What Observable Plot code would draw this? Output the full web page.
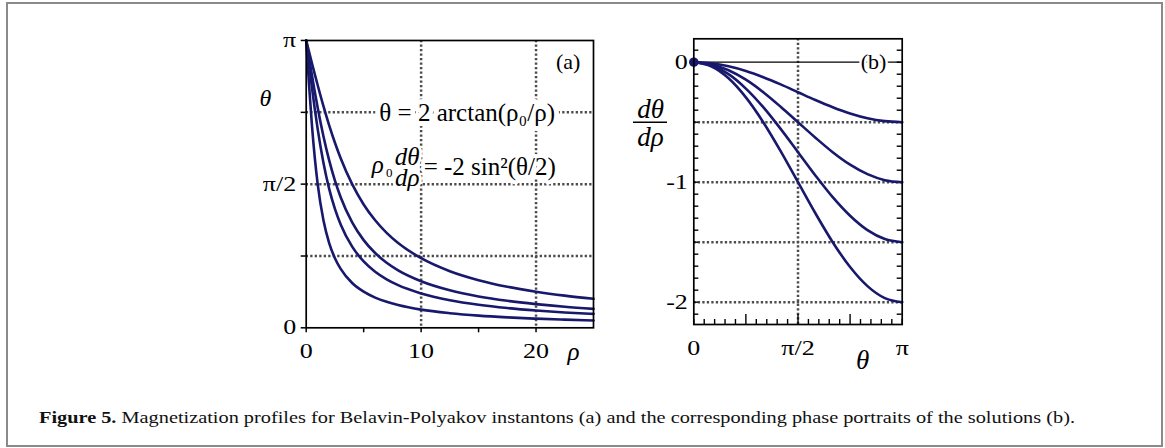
<!DOCTYPE html>
<html><head><meta charset="utf-8">
<script src="https://cdn.jsdelivr.net/npm/d3@7"></script>
<script src="https://cdn.jsdelivr.net/npm/@observablehq/plot@0.6"></script>
<style>
html,body{margin:0;padding:0;background:#fff;}
#wrap{position:relative;width:1165px;height:448px;overflow:hidden;font-family:'Liberation Serif','Times New Roman',serif;}
#border{position:absolute;left:6px;top:2px;width:1153px;height:441px;border:2px solid #8a8a8a;}
#pa{position:absolute;left:220px;top:20px;width:390px;height:360px;}
#pb{position:absolute;left:600px;top:20px;width:320px;height:360px;}
#cap{position:absolute;left:0;top:390px;}
#wrap svg text{font-family:'Liberation Serif','Times New Roman',serif !important;}
#wrap g[aria-label$="tick label"] text{font-size:20px !important;}
</style></head><body>
<div id="wrap"><div id="border"></div><div id="pa"></div><div id="pb"></div>
<svg id="cap" width="1165" height="50"><text x="39" y="33" font-size="17" fill="#111" textLength="1036" lengthAdjust="spacingAndGlyphs"><tspan font-weight="bold">Figure 5.</tspan> Magnetization profiles for Belavin-Polyakov instantons (a) and the corresponding phase portraits of the solutions (b).</text></svg>
</div>
<script>
// ---------- Panel (a) data: theta(rho) ----------
const rhoA    = [0, 0.25, 0.5, 0.75, 1, 1.5, 2, 2.5, 3, 4, 5, 6, 7, 8, 10, 12.5, 15, 17.5, 20, 22.5, 25];
const thetaA1 = [3.142, 2.652, 2.214, 1.855, 1.571, 1.176, 0.927, 0.761, 0.644, 0.490, 0.395, 0.330, 0.284, 0.249, 0.199, 0.160, 0.133, 0.114, 0.100, 0.089, 0.080];
const thetaA2 = [3.142, 2.880, 2.627, 2.390, 2.173, 1.806, 1.519, 1.300, 1.129, 0.887, 0.726, 0.613, 0.530, 0.466, 0.376, 0.302, 0.252, 0.216, 0.189, 0.168, 0.152];
const thetaA3 = [3.142, 2.950, 2.762, 2.580, 2.407, 2.095, 1.830, 1.610, 1.428, 1.153, 0.959, 0.818, 0.711, 0.628, 0.509, 0.410, 0.343, 0.295, 0.259, 0.230, 0.207];
const thetaA4 = [3.142, 3.017, 2.893, 2.771, 2.652, 2.424, 2.214, 2.024, 1.855, 1.571, 1.349, 1.176, 1.038, 0.927, 0.761, 0.619, 0.521, 0.449, 0.395, 0.352, 0.317];
const xTicksA  = [0, 5, 10, 15, 20];
const xLabelsA = ["0", "", "10", "", "20"];
const yTicksA  = [0, 0.785, 1.571, 2.356, 3.142];
const yLabelsA = ["0", "", "π/2", "", "π"];
const gridXA = [10, 20];
const gridYA = [0.785, 1.571, 2.356];

// ---------- Panel (b) data: dθ/dρ vs θ ----------
const thetaB = [0, 0.262, 0.524, 0.785, 1.047, 1.309, 1.571, 1.833, 2.094, 2.356, 2.618, 2.880, 3.142];
const slopeB1 = [0, -0.009, -0.034, -0.073, -0.125, -0.185, -0.250, -0.315, -0.375, -0.427, -0.467, -0.491, -0.500];
const slopeB2 = [0, -0.017, -0.067, -0.146, -0.250, -0.371, -0.500, -0.629, -0.750, -0.854, -0.933, -0.983, -1.000];
const slopeB3 = [0, -0.026, -0.100, -0.220, -0.375, -0.556, -0.750, -0.944, -1.125, -1.280, -1.400, -1.474, -1.500];
const slopeB4 = [0, -0.034, -0.134, -0.293, -0.500, -0.741, -1.000, -1.259, -1.500, -1.707, -1.866, -1.966, -2.000];
const dotTheta = [0];
const dotSlope = [0];
const xTicksB  = [0, 1.571, 3.142];
const xLabelsB = ["0", "π/2", "π"];
const yTicksB  = [0, -1, -2];
const yLabelsB = ["0", "-1", "-2"];
const xMinorB = [0, 0.157, 0.314, 0.471, 0.628, 0.942, 1.100, 1.257, 1.414, 1.728, 1.885, 2.042, 2.199, 2.513, 2.670, 2.827, 2.985, 3.142];
const xMajorB = [0.785, 1.571, 2.356];
const yMinorB = [-2.1, -2.0, -1.9, -1.8, -1.7, -1.6, -1.5, -1.4, -1.3, -1.2, -1.1, -1.0, -0.9, -0.8, -0.7, -0.6, -0.5, -0.4, -0.3, -0.2, -0.1, 0, 0.1];
const gridXB = [1.571];
const gridYB = [-0.5, -1, -1.5, -2];

// ---------- styling ----------
const navy = "#18186c";
const serif = "'Liberation Serif', 'Times New Roman', serif";
const dotted = {stroke: "#4d4d4d", strokeWidth: 2.5, strokeDasharray: "2.3,2.2"};
const halo = {stroke: "white", strokeWidth: 6, fill: "#000"};
const ann = {frameAnchor: "top-left", textAnchor: "middle", lineAnchor: "middle", fontFamily: serif, text: d => d};

const tableA = [thetaA1, thetaA2, thetaA3, thetaA4].flatMap((arr, s) => arr.map((t, i) => ({rho: rhoA[i], theta: t, s})));
const tableB = [slopeB1, slopeB2, slopeB3, slopeB4].flatMap((arr, s) => arr.map((v, i) => ({theta: thetaB[i], slope: v, s})));
const mapXA = new Map(xTicksA.map((v, i) => [v, xLabelsA[i]]));
const mapYA = new Map(yTicksA.map((v, i) => [v, yLabelsA[i]]));
const mapXB = new Map(xTicksB.map((v, i) => [v, xLabelsB[i]]));
const mapYB = new Map(yTicksB.map((v, i) => [v, yLabelsB[i]]));

const styleBase = {fontFamily: serif, fontSize: "19px", color: "#000", background: "transparent", overflow: "visible", maxWidth: "none"};

// widen the tick-label glyphs like the reference's wide numerals (scale about each label's anchor)
function stretchTickLabels(plot, k) {
  d3.select(plot).selectAll('g[aria-label$="tick label"] text').each(function () {
    const t = this.getAttribute("transform") || "";
    this.setAttribute("transform", `${t} scale(${k},1)`);
  });
}

const plotA = Plot.plot({
  width: 390, height: 360,
  marginLeft: 85.7, marginRight: 17, marginTop: 20, marginBottom: 52.7,
  x: {domain: [0, 25]}, y: {domain: [0, Math.PI]},
  style: styleBase,
  marks: [
    Plot.ruleX(gridXA, dotted),
    Plot.ruleY(gridYA, dotted),
    Plot.text(["θ = 2 arctan(ρ₀/ρ)"], {...ann, dx: 161, dy: 72, fontSize: 25, ...halo, strokeWidth: 10, ariaLabel: "formula1"}),
    Plot.text(["ρ"], {...ann, dx: 71.5, dy: 124, fontSize: 25, fontStyle: "italic", ...halo}),
    Plot.text(["0"], {...ann, dx: 83, dy: 132, fontSize: 13, ...halo, strokeWidth: 3}),
    Plot.text(["dρ"], {...ann, dx: 101, dy: 137, fontSize: 25, fontStyle: "italic", ...halo}),
    Plot.text(["dθ"], {...ann, dx: 101, dy: 116.5, fontSize: 25, fontStyle: "italic", ...halo}),
    Plot.text(["= -2 sin²(θ/2)"], {...ann, textAnchor: "start", dx: 117.5, dy: 126, fontSize: 25, ...halo, strokeWidth: 8}),
    Plot.text(["(a)"], {...ann, dx: 262, dy: 21, fontSize: 22, fill: "#000"}),
    Plot.line(tableA, {x: "rho", y: "theta", z: "s", stroke: navy, strokeWidth: 2.6, curve: "monotone-x"}),
    Plot.frame({stroke: "#000", strokeWidth: 1.7}),
    Plot.axisX(xTicksA, {tickSize: 5, tickPadding: 11, tickFormat: d => mapXA.get(d), label: null, fontSize: 20, fontFamily: serif, strokeWidth: 1.5}),
    Plot.axisY(yTicksA, {tickSize: 5, tickPadding: 5, tickFormat: d => mapYA.get(d), label: null, fontSize: 20, fontFamily: serif, strokeWidth: 1.5}),
    Plot.text(["θ"], {...ann, dx: -40.7, dy: 57.5, fontSize: 24, fontStyle: "italic", fill: "#000"}),
    Plot.text(["ρ"], {...ann, dx: 267.3, dy: 311, fontSize: 25, fontStyle: "italic", fill: "#000"})
  ]
});
document.getElementById("pa").appendChild(plotA);
d3.select(plotA).select('g[aria-label="formula1"] text')
  .html('<tspan font-style="italic">θ</tspan> = 2 arctan(<tspan font-style="italic">ρ</tspan><tspan font-size="13" dy="5">0</tspan><tspan dy="-5">/</tspan><tspan font-style="italic">ρ</tspan>)');
stretchTickLabels(plotA, 1.3);

const frameHB = 360 - 18.3 - 56;
const frameWB = 320 - 93.3 - 18.3;
const plotB = Plot.plot({
  width: 320, height: 360,
  marginLeft: 93.3, marginRight: 18.3, marginTop: 18.3, marginBottom: 56,
  x: {domain: [0, Math.PI]}, y: {domain: [-2.186, 0.195]},
  style: styleBase,
  marks: [
    Plot.ruleX(gridXB, dotted),
    Plot.ruleY(gridYB, dotted),
    Plot.ruleY([0], {stroke: "#000", strokeWidth: 1.3}),
    Plot.text(["(b)"], {...ann, dx: 179.7, dy: 23.4, fontSize: 22, ...halo, strokeWidth: 5}),
    Plot.tickX(xMinorB, {x: d => d, insetTop: frameHB - 5, stroke: "#000", strokeWidth: 1.4}),
    Plot.tickX(xMajorB, {x: d => d, insetTop: frameHB - 10, stroke: "#000", strokeWidth: 1.4}),
    Plot.tickY(yMinorB, {y: d => d, insetRight: frameWB - 5, stroke: "#000", strokeWidth: 1.4}),
    Plot.tickY(yMinorB, {y: d => d, insetLeft: frameWB - 5, stroke: "#000", strokeWidth: 1.4}),
    Plot.line(tableB, {x: "theta", y: "slope", z: "s", stroke: navy, strokeWidth: 2.6, curve: "monotone-x"}),
    Plot.dot(dotTheta, {x: d => d, y: (d, i) => dotSlope[i], r: 4.8, fill: navy, stroke: null}),
    Plot.frame({stroke: "#000", strokeWidth: 1.7}),
    Plot.axisX(xTicksB, {tickSize: 0, tickPadding: 16, tickFormat: d => mapXB.get(d), label: null, fontSize: 20, fontFamily: serif}),
    Plot.axisY(yTicksB, {tickSize: 0, tickPadding: 6, tickFormat: d => mapYB.get(d), label: null, fontSize: 20, fontFamily: serif}),
    Plot.text(["θ"], {...ann, dx: 168.7, dy: 322, fontSize: 27, fontStyle: "italic", fill: "#000"}),
    Plot.text(["dθ"], {...ann, dx: -43.3, dy: 70.1, fontSize: 27, fontStyle: "italic", fill: "#000"}),
    Plot.text(["dρ"], {...ann, dx: -43.3, dy: 98.4, fontSize: 27, fontStyle: "italic", fill: "#000"})
  ]
});
document.getElementById("pb").appendChild(plotB);
stretchTickLabels(plotB, 1.3);
// fraction bar of the dθ/dρ axis label
d3.select(plotB).append("line").attr("x1", 33).attr("x2", 67).attr("y1", 102.3).attr("y2", 102.3)
  .attr("stroke", "#000").attr("stroke-width", 1.5);
</script>
</body></html>
